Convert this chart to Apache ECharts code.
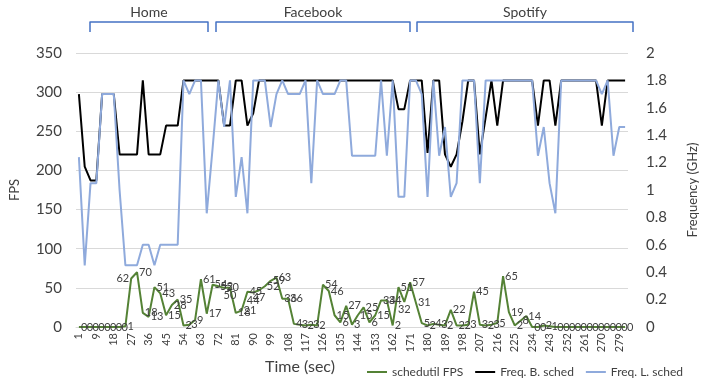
<!DOCTYPE html>
<html><head><meta charset="utf-8">
<script src="https://cdn.jsdelivr.net/npm/echarts@6/dist/echarts.min.js"></script>
<style>html,body{margin:0;padding:0;background:#fff}#c{width:710px;height:379px}</style>
</head><body><div id="c"></div>
<script>
const categories = [1,3,6,9,12,15,18,21,24,27,30,33,36,39,42,45,48,51,54,57,60,63,66,69,72,75,78,81,84,87,90,93,96,99,102,105,108,111,114,117,120,123,126,129,132,135,138,141,144,147,150,153,156,159,162,165,168,171,174,177,180,183,186,189,192,195,198,201,204,207,210,213,216,219,222,225,228,231,234,237,240,243,246,249,252,255,258,261,264,267,270,273,276,279,282];

const schedutilFPS = [0,0,0,0,0,0,0,0,1,62,70,18,13,51,43,15,28,35,2,3,9,61,17,54,52,50,50,18,21,45,44,47,52,59,63,36,36,4,3,2,3,2,54,46,15,6,27,3,15,25,6,15,34,34,2,51,32,57,31,5,2,4,3,2,22,2,2,3,45,3,2,3,5,65,19,2,8,14,0,0,2,1,0,0,0,0,0,0,0,0,0,0,0,0,0];

const freqBig = [1.7,1.17,1.07,1.07,1.7,1.7,1.7,1.26,1.26,1.26,1.26,1.8,1.26,1.26,1.26,1.47,1.47,1.47,
1.8,1.8,1.8,1.8,1.8,1.8,1.8,
1.47,1.47,1.8,1.8,1.47,1.56,
1.8,1.8,1.8,1.8,1.8,1.8,1.8,1.8,1.8,1.8,1.8,1.8,1.8,1.8,1.8,1.8,1.8,1.8,1.8,1.8,1.8,1.8,1.8,1.8,
1.59,1.59,1.8,1.8,1.8,1.27,1.8,1.8,1.26,1.17,1.26,1.5,
1.8,1.8,1.26,1.53,1.8,1.47,
1.8,1.8,1.8,1.8,1.8,1.8,
1.47,1.8,1.8,1.47,
1.8,1.8,1.8,1.8,1.8,1.8,1.8,
1.47,1.8,1.8,1.8,1.8];

const freqLittle = [1.24,0.45,1.05,1.05,1.7,1.7,1.7,1.0,0.45,0.45,0.45,0.6,0.6,0.45,0.6,0.6,0.6,0.6,
1.8,1.7,1.8,1.8,0.83,1.3,1.8,1.46,1.8,0.95,1.24,0.83,
1.8,1.8,1.8,1.46,1.7,1.8,1.7,1.7,1.7,1.8,1.05,1.8,1.7,1.7,1.7,1.8,1.8,
1.25,1.25,1.25,1.25,1.25,
1.8,1.25,1.8,0.95,0.95,1.8,1.8,1.7,0.95,1.8,1.25,1.46,0.95,1.05,
1.8,1.8,1.8,
1.05,
1.8,1.8,1.8,1.8,1.8,1.8,1.8,1.8,1.8,
1.25,1.46,1.05,0.83,
1.8,1.8,1.8,1.8,1.8,1.8,1.8,
1.7,1.8,1.25,1.46,1.46];

const seriesNames = ['schedutil FPS','Freq. B. sched','Freq. L. sched'];
const groups = [
  {name:'Home', x1:90, x2:208},
  {name:'Facebook', x1:216, x2:410},
  {name:'Spotify', x1:417, x2:633}
];
// label placement tweaks (style only), keyed by point index
const labelPlacement = {9:'left', 26:'bottom', 30:'bottom', 31:'bottom', 56:'bottom'};

const FONT = 'Lato, "Open Sans", sans-serif';
const TXT = '#404040';
const chart = echarts.init(document.getElementById('c'), null, {renderer:'canvas'});

const fpsData = schedutilFPS.map((v, i) => labelPlacement[i]
  ? {value:v, label:{position:labelPlacement[i]}} : v);

const graphics = [];
groups.forEach(g => {
  graphics.push({
    type:'polyline', silent:true,
    shape:{points:[[g.x1,32],[g.x1,22],[g.x2,22],[g.x2,32]]},
    style:{fill:null, stroke:'#4472C4', lineWidth:1.5, lineJoin:'round'}
  });
  graphics.push({
    type:'text', silent:true, x:(g.x1+g.x2)/2, y:12,
    style:{text:g.name, fill:TXT, font:`14px ${FONT}`, textAlign:'center', textVerticalAlign:'middle'}
  });
});
graphics.push({
  type:'text', silent:true, x:300, y:367,
  style:{text:'Time (sec)', fill:TXT, font:`16px ${FONT}`, textAlign:'center', textVerticalAlign:'middle'}
});

chart.setOption({
  animation:false,
  backgroundColor:'#fff',
  textStyle:{fontFamily:FONT},
  grid:{left:75, right:82, top:53, bottom:52},
  legend:{
    data:seriesNames, left:362, top:361, icon:'rect', itemWidth:20, itemHeight:2, itemGap:12,
    textStyle:{fontSize:12, color:TXT, fontFamily:FONT}
  },
  xAxis:{
    type:'category', data:categories, boundaryGap:true,
    axisLine:{show:true, lineStyle:{color:'#d9d9d9'}},
    axisTick:{show:false},
    axisLabel:{rotate:90, interval:2, fontSize:11, color:TXT, fontFamily:FONT, margin:6}
  },
  yAxis:[
    {type:'value', min:0, max:350, interval:50,
     name:'FPS', nameLocation:'middle', nameGap:55, nameTextStyle:{fontSize:13, color:TXT, fontFamily:FONT},
     axisLine:{show:false}, axisTick:{show:false},
     axisLabel:{fontSize:15, color:TXT, fontFamily:FONT, margin:14},
     splitLine:{lineStyle:{color:'#d9d9d9', width:1}}},
    {type:'value', min:0, max:2, interval:0.2, position:'right',
     name:'Frequency (GHz)', nameLocation:'middle', nameGap:58, nameRotate:90,
     nameTextStyle:{fontSize:13, color:TXT, fontFamily:FONT},
     axisLine:{show:false}, axisTick:{show:false},
     axisLabel:{fontSize:15, color:TXT, fontFamily:FONT, margin:18},
     splitLine:{show:false}}
  ],
  series:[
    {name:seriesNames[0], type:'line', yAxisIndex:0, data:fpsData,
     symbol:'circle', symbolSize:0, showSymbol:true, showAllSymbol:true,
     lineStyle:{color:'#548235', width:2}, itemStyle:{color:'#548235'},
     labelLayout:{hideOverlap:false},
     label:{show:true, position:'right', distance:2, fontSize:11, color:TXT, fontFamily:FONT}},
    {name:seriesNames[1], type:'line', yAxisIndex:1, data:freqBig, symbol:'none',
     lineStyle:{color:'#000000', width:2}, itemStyle:{color:'#000000'}},
    {name:seriesNames[2], type:'line', yAxisIndex:1, data:freqLittle, symbol:'none',
     lineStyle:{color:'#8FAADC', width:2}, itemStyle:{color:'#8FAADC'}}
  ],
  graphic:graphics
});
</script>
</body></html>
